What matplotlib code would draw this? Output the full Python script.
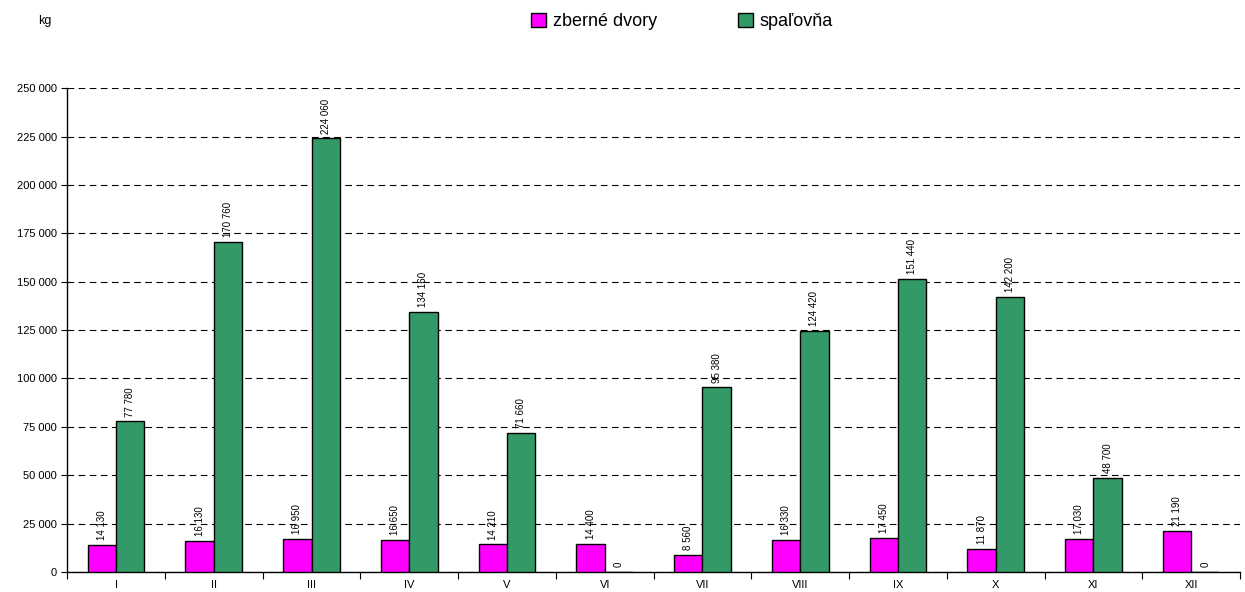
import matplotlib.pyplot as plt
import numpy as np
from matplotlib.ticker import FuncFormatter, FixedLocator

plt.rcParams["font.family"] = ["Liberation Sans", "DejaVu Sans"]

months = ["I", "II", "III", "IV", "V", "VI", "VII", "VIII", "IX", "X", "XI", "XII"]
zberne_dvory = [14130, 16130, 16950, 16650, 14210, 14400, 8560, 16330, 17450, 11870, 17030, 21190]
spalovna = [77780, 170760, 224060, 134160, 71660, 0, 95380, 124420, 151440, 142200, 48700, 0]

pink = "#FF00FF"
green = "#339966"

fig = plt.figure(figsize=(12.45, 5.92), dpi=100)
ax = fig.add_axes([0.054, 0.034, 0.942, 0.817])

x = np.arange(len(months))
w = 0.29
b1 = ax.bar(x - w / 2, zberne_dvory, w, color=pink, edgecolor="black", linewidth=1, label="zberné dvory", zorder=3)
b2 = ax.bar(x + w / 2, spalovna, w, color=green, edgecolor="black", linewidth=1, label="spaľovňa", zorder=3)

fmt = lambda v, p=None: f"{int(v):,}".replace(",", " ")
for bars in (b1, b2):
    for r in bars:
        h = r.get_height()
        ax.text(r.get_x() + r.get_width() / 2, h + 2500, fmt(h), rotation=90,
                ha="center", va="bottom", fontsize=7)

ax.set_xlim(-0.5, len(months) - 0.5)
ax.set_ylim(0, 250000)
ax.set_yticks(np.arange(0, 250001, 25000))
ax.yaxis.set_major_formatter(FuncFormatter(fmt))
ax.set_xticks(x)
ax.set_xticklabels(months)
ax.xaxis.set_minor_locator(FixedLocator(np.arange(-0.5, len(months), 1)))
ax.tick_params(axis="x", which="major", length=0, labelsize=8, pad=6)
ax.tick_params(axis="x", which="minor", length=5, width=0.8)
ax.tick_params(axis="y", length=4, width=0.8, labelsize=8)

ax.grid(axis="y", color="black", linestyle=(0, (6, 4)), linewidth=0.8, zorder=0)
ax.spines["top"].set_visible(False)
ax.spines["right"].set_visible(False)
ax.spines["left"].set_linewidth(1)
ax.spines["bottom"].set_linewidth(1)

fig.text(0.031, 0.965, "kg", fontsize=9, ha="left", va="center")
fig.legend(handles=[b1, b2], loc="center", bbox_to_anchor=(0.548, 0.963), ncol=2, frameon=False,
           fontsize=13, handlelength=0.8, handleheight=0.8, columnspacing=4.5, handletextpad=0.4)

fig.savefig("out.png", dpi=100)
